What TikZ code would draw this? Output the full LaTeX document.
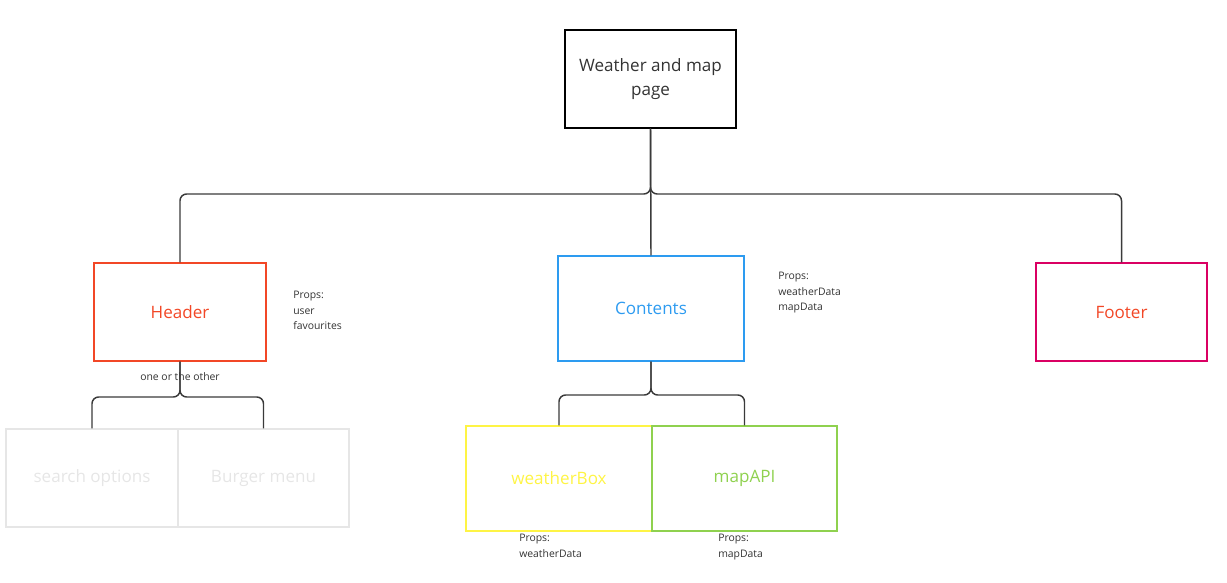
\documentclass[tikz,border=0pt]{standalone}
\usepackage{fontspec}
\setmainfont{Open Sans}
\definecolor{txt}{HTML}{333333}
\definecolor{mred}{HTML}{F24726}
\definecolor{mblue}{HTML}{2D9BF0}
\definecolor{mmag}{HTML}{DA0063}
\definecolor{myel}{HTML}{FEF445}
\definecolor{mgreen}{HTML}{8FD14F}
\definecolor{mgray}{HTML}{E6E6E6}
\definecolor{conncol}{HTML}{3A3A3A}
\begin{document}
\begin{tikzpicture}[x=0.75pt,y=-0.75pt,
  box/.style={draw, line width=1.1pt, inner sep=0pt, align=center, font=\fontsize{12.8}{18}\selectfont},
  conn/.style={draw=conncol, line width=1.1pt, rounded corners=5pt},
  props/.style={anchor=north west, align=left, inner sep=0pt, text=txt, font=\fontsize{7.8}{11.7}\selectfont}]
\useasboundingbox (0,0) rectangle (1227,582);
\node[box, draw=black, text=txt, minimum width=128.25pt, minimum height=73.5pt] (top) at (650.5,79) {Weather and map\\page};
\node[box, draw=mred, text=mred, minimum width=129pt, minimum height=73.5pt] (header) at (180,312) {\raisebox{-1.2pt}{Header}};
\node[box, draw=mblue, text=mblue, minimum width=139.5pt, minimum height=78.75pt] (contents) at (651,308.5) {\raisebox{-1.2pt}{Contents}};
\node[box, draw=mmag, text=mred, minimum width=128.25pt, minimum height=73.5pt] (footer) at (1121.5,312) {\raisebox{-1.2pt}{Footer}};
\node[box, draw=mgray, text=mgray, minimum width=129pt, minimum height=73.5pt] (search) at (92,478) {\raisebox{-1.2pt}{search options}};
\node[box, draw=mgray, text=mgray, minimum width=128.25pt, minimum height=73.5pt] (burger) at (263.5,478) {\raisebox{-1.2pt}{Burger menu}};
\node[box, draw=myel, text=myel, minimum width=139.5pt, minimum height=78.75pt] (weather) at (559,478.5) {\raisebox{-1.2pt}{weatherBox}};
\node[box, draw=mgreen, text=mgreen, minimum width=138.75pt, minimum height=78.75pt] (map) at (744.5,478.5) {\raisebox{-1.2pt}{mapAPI}};
\node[props] (p1) at (293,291) {Props:\\user\\favourites};
\node[props] (p2) at (778,272) {Props:\\weatherData\\mapData};
\node[props] (p3) at (519,534) {Props:\\weatherData};
\node[props] (p4) at (718,534) {Props:\\mapData};
\node[inner sep=0pt, text=txt, font=\fontsize{7.8}{9}\selectfont] (oor) at (180,377) {one or the other};
\coordinate (busA) at (651,194);
\coordinate (busB) at (180,397);
\coordinate (busC) at (651,395);
\draw[conn] (top.south) -- (top.south |- busA) -| (header.north);
\draw[conn] (top.south) -- (top.south |- busA) -| (footer.north);
\draw[conn] (top.south) -- (contents.north);
\draw[conn] (header.south) -- (header.south |- busB) -| (search.north);
\draw[conn] (header.south) -- (header.south |- busB) -| (burger.north);
\draw[conn] (contents.south) -- (contents.south |- busC) -| (weather.north);
\draw[conn] (contents.south) -- (contents.south |- busC) -| (map.north);
\end{tikzpicture}
\end{document}
